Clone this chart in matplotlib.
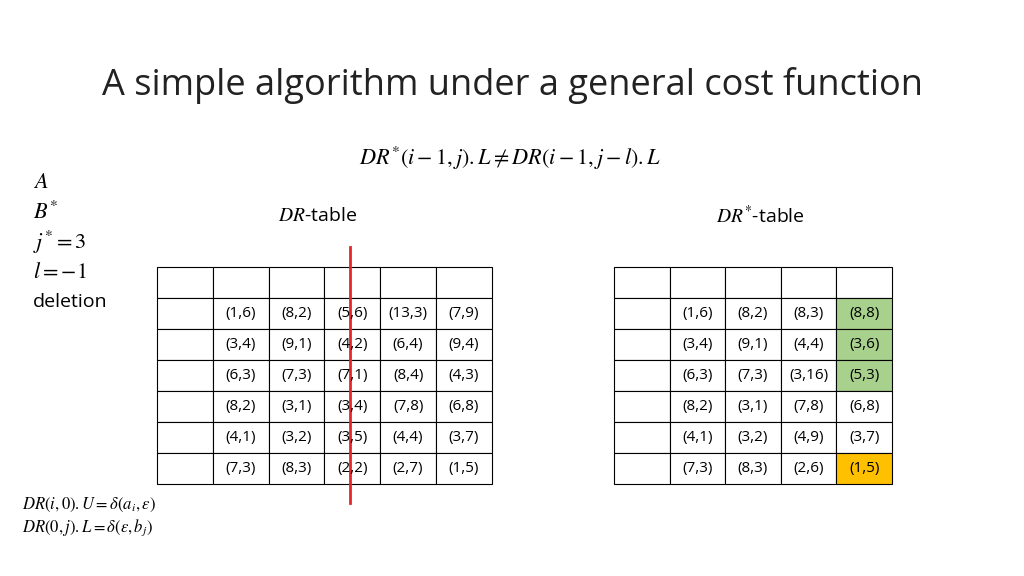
import matplotlib
matplotlib.use("Agg")
import matplotlib.pyplot as plt
from matplotlib.patches import Rectangle

plt.rcParams["mathtext.fontset"] = "stix"

dr_table = [["(1,6)","(8,2)","(5,6)","(13,3)","(7,9)"],
            ["(3,4)","(9,1)","(4,2)","(6,4)","(9,4)"],
            ["(6,3)","(7,3)","(7,1)","(8,4)","(4,3)"],
            ["(8,2)","(3,1)","(3,4)","(7,8)","(6,8)"],
            ["(4,1)","(3,2)","(3,5)","(4,4)","(3,7)"],
            ["(7,3)","(8,3)","(2,2)","(2,7)","(1,5)"]]
drs_table = [["(1,6)","(8,2)","(8,3)","(8,8)"],
             ["(3,4)","(9,1)","(4,4)","(3,6)"],
             ["(6,3)","(7,3)","(3,16)","(5,3)"],
             ["(8,2)","(3,1)","(7,8)","(6,8)"],
             ["(4,1)","(3,2)","(4,9)","(3,7)"],
             ["(7,3)","(8,3)","(2,6)","(1,5)"]]
highlight = {(0,3):"#A9D18E",(1,3):"#A9D18E",(2,3):"#A9D18E",(5,3):"#FFC000"}

fig = plt.figure(figsize=(10.24,5.76), dpi=100)
ax = fig.add_axes([0,0,1,1])
ax.set_xlim(0,1024); ax.set_ylim(576,0); ax.axis("off")

ax.text(512,85,"A simple algorithm under a general cost function",ha="center",va="center",
        fontsize=26,family="Open Sans",color="#222222")
ax.text(510,158,r"$DR^{*}(i-1,j).L\neq DR(i-1,j-l).L$",ha="center",va="center",fontsize=16)
for y,t in [(182,r"$A$"),(212,r"$B^{*}$"),(242,r"$j^{*}=3$"),(272,r"$l=-1$")]:
    ax.text(33,y,t,ha="left",va="center",fontsize=16)
ax.text(33,302,"deletion",ha="left",va="center",fontsize=14,family="Open Sans")
ax.text(318,216,r"$DR$-table",ha="center",va="center",fontsize=14,family="Open Sans")
ax.text(760,216,r"$DR^{*}$-table",ha="center",va="center",fontsize=14,family="Open Sans")
ax.text(22,505,r"$DR(i,0).U=\delta(a_i,\varepsilon)$",ha="left",va="center",fontsize=12)
ax.text(22,528,r"$DR(0,j).L=\delta(\varepsilon,b_j)$",ha="left",va="center",fontsize=12)

def table(x0, colw, data, hl):
    ncol = len(data[0]) + 1
    rowh = 31; y0 = 267
    for r in range(len(data)+1):
        for c in range(ncol):
            fc = "white"
            if r > 0 and c > 0:
                fc = hl.get((r-1,c-1),"white")
            ax.add_patch(Rectangle((x0+c*colw,y0+r*rowh),colw,rowh,fc=fc,ec="black",lw=0.8))
            if r > 0 and c > 0:
                ax.text(x0+c*colw+colw/2,y0+r*rowh+rowh/2,data[r-1][c-1],ha="center",
                        va="center",fontsize=11,family="Open Sans")

table(157,55.8,dr_table,{})
table(614,55.6,drs_table,highlight)
ax.plot([350,350],[247,503],color="#E8262A",lw=2)
fig.savefig("out.png",dpi=100)
